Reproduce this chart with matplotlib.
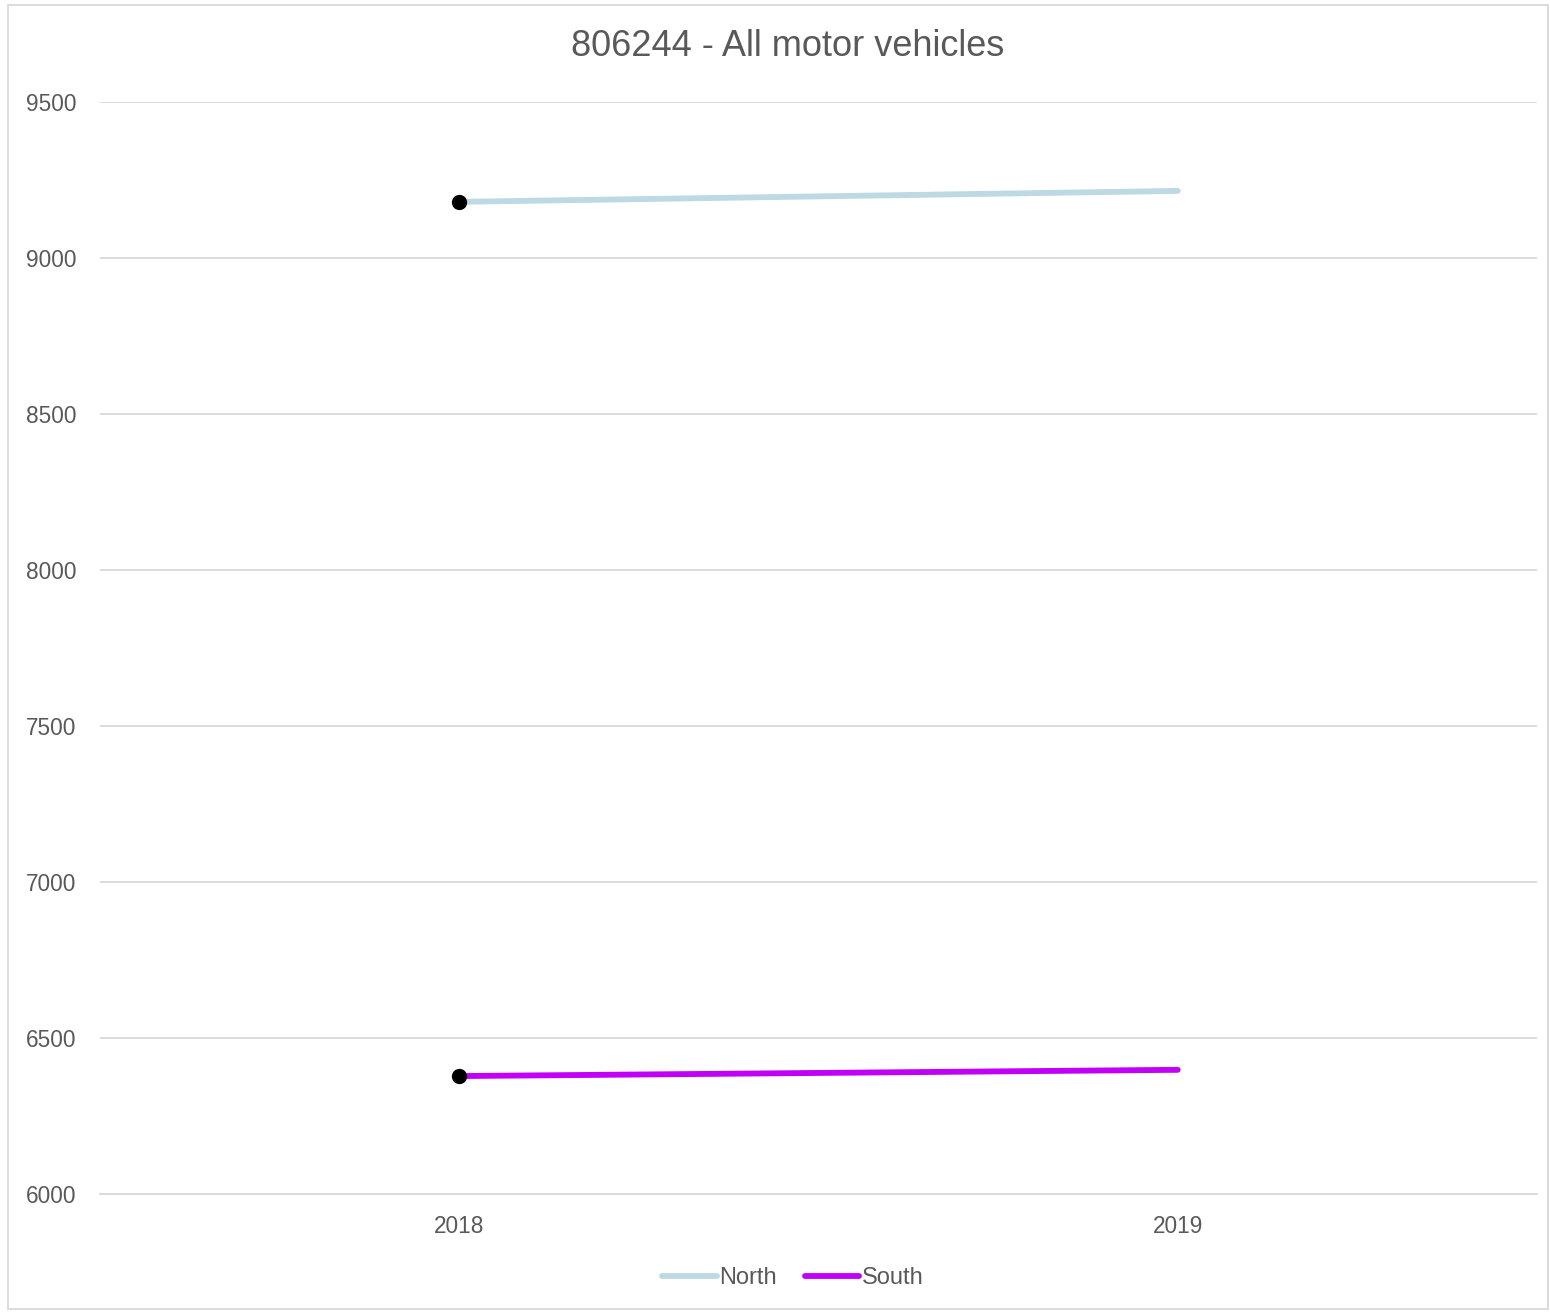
import matplotlib.pyplot as plt
from matplotlib.patches import Rectangle

plt.rcParams['font.family'] = ['Liberation Sans', 'DejaVu Sans']

# Data
years = ['2018', '2019']
north = [9180, 9215]
south = [6378, 6398]

fig = plt.figure(figsize=(15.5, 13.12), dpi=100)
ax = fig.add_axes([100 / 1550, 1 - 1194 / 1312, 1437 / 1550, 1092 / 1312])

x = [0, 1]
ax.plot(x, north, color='#BDD9E3', lw=4.2, solid_capstyle='round', label='North', zorder=3)
ax.plot(x, south, color='#C000F7', lw=4.2, solid_capstyle='round', label='South', zorder=3)
# marker only on first point
ax.plot(x[0], north[0], 'o', color='black', ms=10, zorder=4)
ax.plot(x[0], south[0], 'o', color='black', ms=10, zorder=4)

ax.set_xlim(-0.5, 1.5)
ax.set_ylim(6000, 9500)
ax.set_yticks(range(6000, 9501, 500))
ax.set_xticks(x)
ax.set_xticklabels(years)
ax.yaxis.grid(True, color='#D9D9D9', lw=1.3)
ax.set_axisbelow(True)
for s in ['top', 'right', 'left']:
    ax.spines[s].set_visible(False)
ax.spines['bottom'].set_color('#D9D9D9')
ax.spines['bottom'].set_linewidth(1.3)
ax.tick_params(axis='both', length=0, labelsize=16.3, colors='#595959')
ax.tick_params(axis='x', pad=15)
ax.tick_params(axis='y', pad=17)

fig.suptitle('806244 - All motor vehicles', x=788 / 1550, y=1 - 47 / 1312, va='center',
             fontsize=26, color='#595959')

leg = fig.legend(loc='center', bbox_to_anchor=(793 / 1550, 1 - 1278 / 1312), ncol=2,
                 frameon=False, fontsize=17, handlelength=2.3, handletextpad=0.1,
                 columnspacing=1.2)
for t in leg.get_texts():
    t.set_color('#595959')

# outer chart border
fig.add_artist(Rectangle((8 / 1550, 0.002), 1 - 10 / 1550, 1 - 5 / 1312 - 0.002,
                         transform=fig.transFigure, fill=False, ec='#D9D9D9', lw=1.3))

fig.savefig('out.png', dpi=100)
